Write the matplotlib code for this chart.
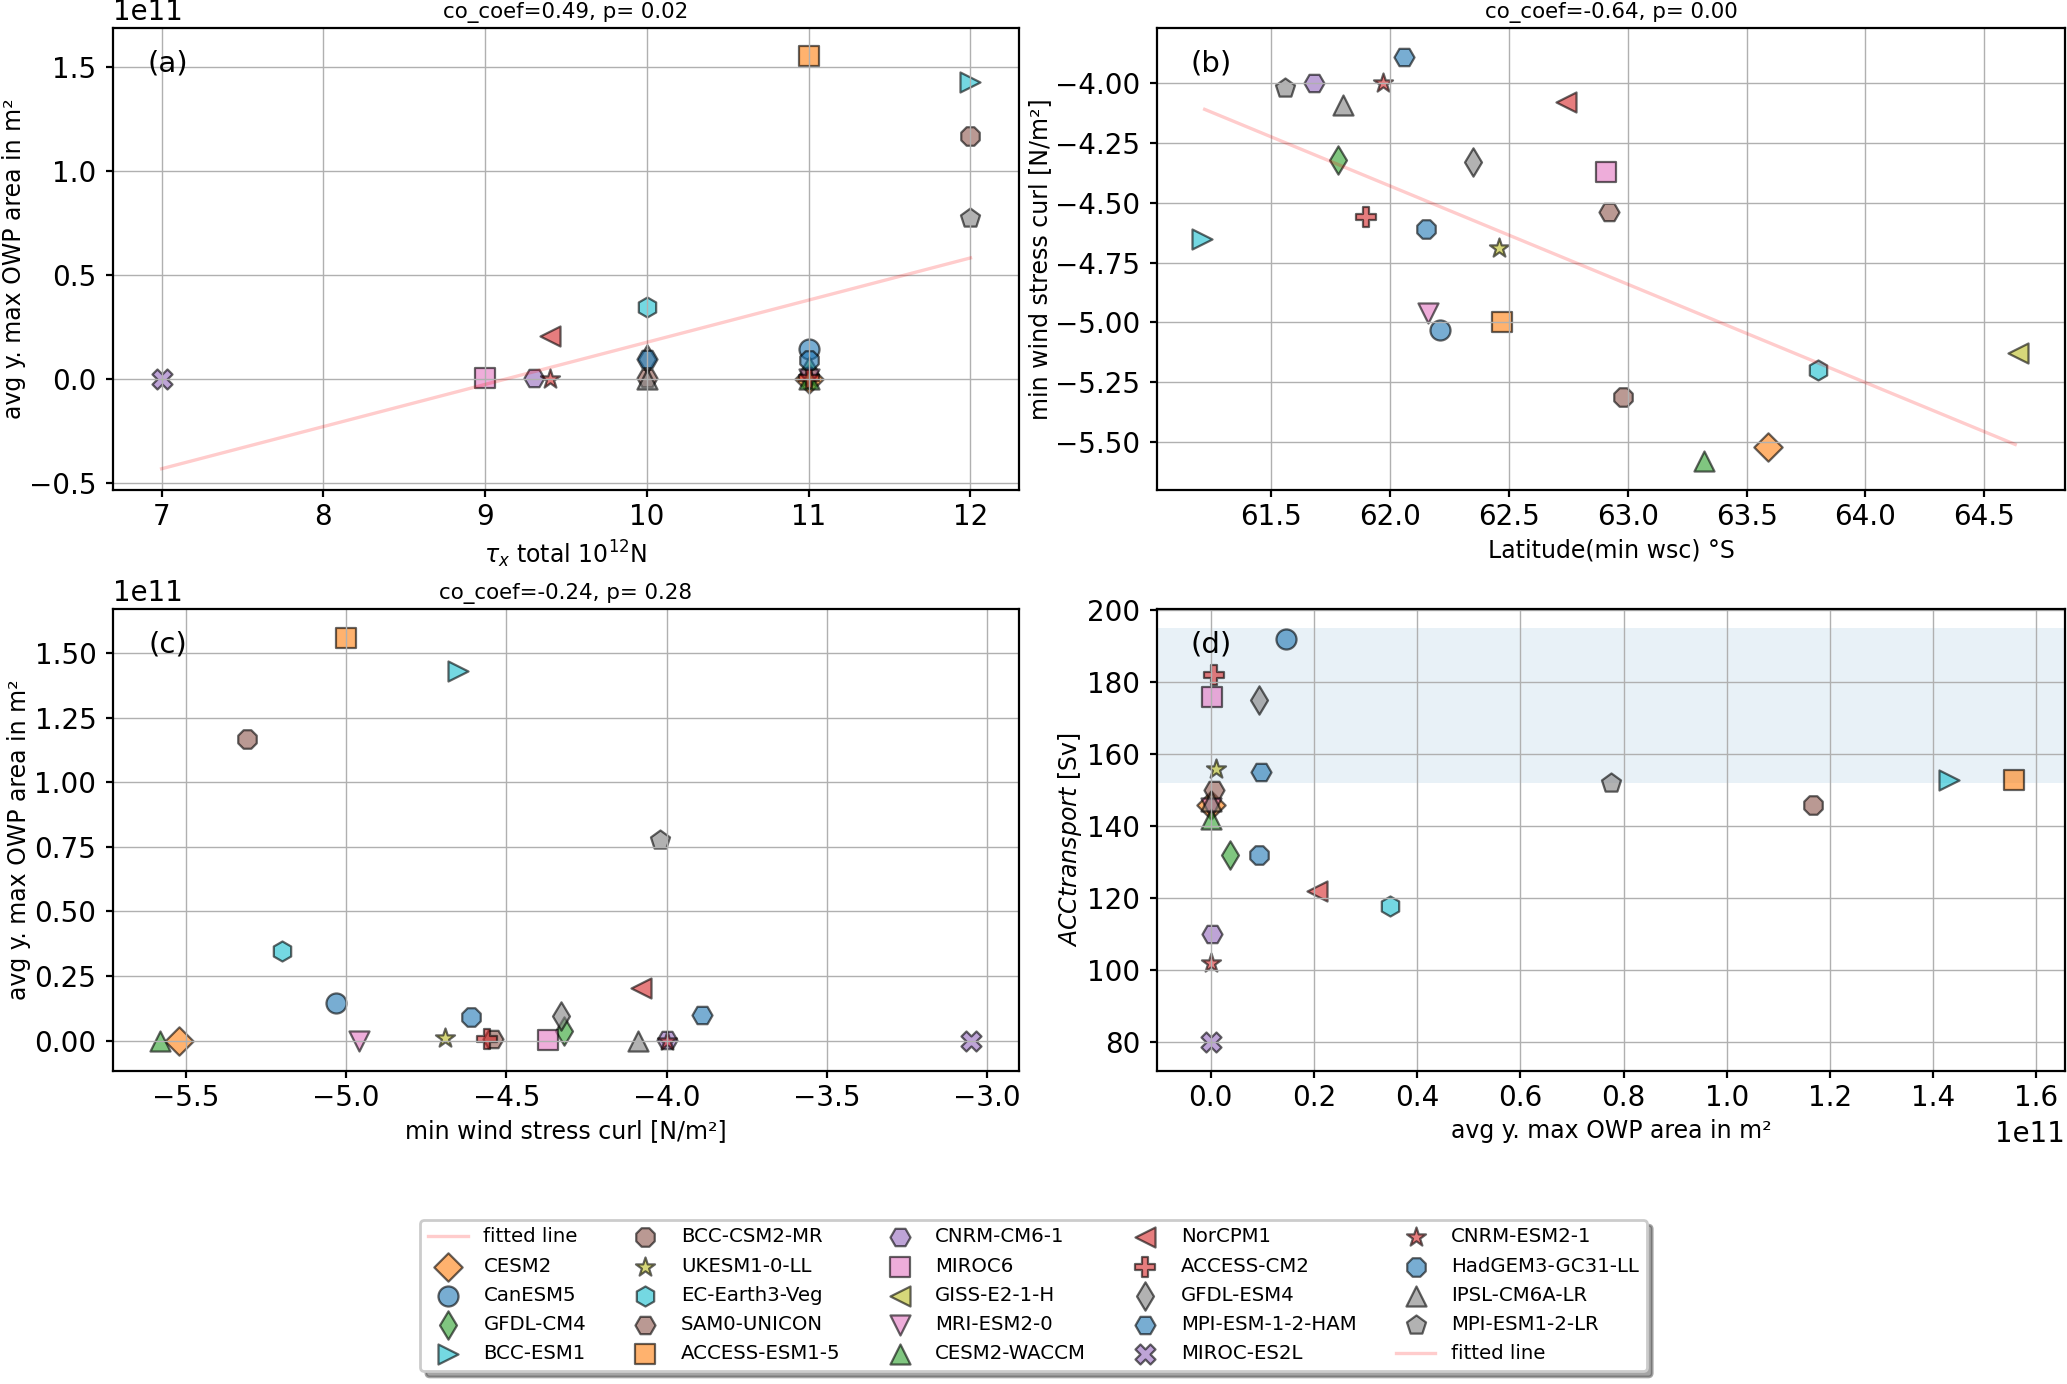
import numpy as np
import matplotlib
matplotlib.use('Agg')
import matplotlib.pyplot as plt

plt.rcParams['font.family'] = ['DejaVu Sans']
plt.rcParams['xtick.labelsize'] = 10
plt.rcParams['ytick.labelsize'] = 10
plt.rcParams['axes.labelsize'] = 8.5
plt.rcParams['axes.titlesize'] = 7.7
plt.rcParams['axes.titlepad'] = 3.5
plt.rcParams['axes.labelpad'] = 1.2
plt.rcParams['xtick.major.size'] = 2.5
plt.rcParams['ytick.major.size'] = 2.5
plt.rcParams['xtick.major.pad'] = 2.2
plt.rcParams['grid.linewidth'] = 0.5

models = ['CESM2', 'CanESM5', 'GFDL-CM4', 'BCC-ESM1', 'BCC-CSM2-MR', 'UKESM1-0-LL',
          'EC-Earth3-Veg', 'SAM0-UNICON', 'ACCESS-ESM1-5', 'CNRM-CM6-1', 'MIROC6',
          'GISS-E2-1-H', 'MRI-ESM2-0', 'CESM2-WACCM', 'NorCPM1', 'ACCESS-CM2',
          'GFDL-ESM4', 'MPI-ESM-1-2-HAM', 'MIROC-ES2L', 'CNRM-ESM2-1',
          'HadGEM3-GC31-LL', 'IPSL-CM6A-LR', 'MPI-ESM1-2-LR']
markers = ['D', 'o', 'd', '>', '8', '*', 'h', 'H', 's', 'H', 's', '<', 'v', '^',
           '<', 'P', 'd', 'H', 'X', '*', '8', '^', 'p']
colors = ['tab:orange', 'tab:blue', 'tab:green', 'tab:cyan', 'tab:brown', 'tab:olive',
          'tab:cyan', 'tab:brown', 'tab:orange', 'tab:purple', 'tab:pink', 'tab:olive',
          'tab:pink', 'tab:green', 'tab:red', 'tab:red', 'tab:gray', 'tab:blue',
          'tab:purple', 'tab:red', 'tab:blue', 'tab:gray', 'tab:gray']

# tau_x total [10^12 N]
tau = [11, 11, 11, 12, 12, 11, 10, 10, 11, 9.3, 9, np.nan, 11, 11, 9.4, 11,
       10, 10, 7, 9.4, 11, 10, 12]
# avg yearly max OWP area [1e11 m^2]
owp = [0.0, 0.145, 0.038, 1.43, 1.168, 0.01, 0.348, 0.006, 1.556, 0.003, 0.003,
       np.nan, 0.0, 0.0, 0.205, 0.007, 0.094, 0.098, 0.0, 0.0, 0.093, 0.0, 0.776]
# latitude of min wind stress curl [deg S]
lat = [63.59, 62.21, 61.78, 61.21, 62.98, 62.46, 63.80, 62.92, 62.47, 61.68, 62.91,
       64.64, 62.16, 63.32, 62.74, 61.90, 62.35, 62.06, np.nan, 61.97, 62.15, 61.80, 61.56]
# min wind stress curl [N/m2]
wsc = [-5.52, -5.03, -4.32, -4.65, -5.31, -4.69, -5.20, -4.54, -5.00, -4.00, -4.37,
       -5.13, -4.96, -5.58, -4.08, -4.56, -4.33, -3.89, -3.05, -4.00, -4.61, -4.09, -4.02]
# ACC transport [Sv]
acc = [146, 192, 132, 153, 146, 156, 118, 150, 153, 110, 176, np.nan, 145, 142,
       122, 182, 175, 155, 80, 102, 132, 147, 152]

fit_a_x = [7, 12]
fit_a_y = [-0.432, 0.583]
fit_b_x = [61.22, 64.63]
fit_b_y = [-4.11, -5.51]

owp = np.array(owp) * 1e11
fit_a_y = np.array(fit_a_y) * 1e11

fig = plt.figure(figsize=(10.335, 6.92), dpi=200)
ax1 = fig.add_axes([0.0547, 0.646, 0.4383, 0.3338])
ax2 = fig.add_axes([0.5598, 0.646, 0.4393, 0.3338])
ax3 = fig.add_axes([0.0547, 0.2262, 0.4383, 0.3338])
ax4 = fig.add_axes([0.5598, 0.2262, 0.4393, 0.3338])


def scat(ax, xs, ys):
    hs = []
    for i in range(len(models)):
        h = ax.scatter(xs[i], ys[i], marker=markers[i], c=colors[i], s=52, alpha=0.6,
                       edgecolors='k', linewidths=0.8, label=models[i])
        hs.append(h)
    return hs


l1, = ax1.plot(fit_a_x, fit_a_y, color='red', alpha=0.2, lw=1.2, label='fitted line')
handles = scat(ax1, tau, owp)
l2, = ax2.plot(fit_b_x, fit_b_y, color='red', alpha=0.2, lw=1.2, label='fitted line')
scat(ax2, lat, wsc)
scat(ax3, wsc, owp)
ax4.axhspan(152, 195, alpha=0.1)
scat(ax4, owp, acc)

ax1.set_xlim(6.7, 12.3)
ax1.set_ylim(-0.534e11, 1.69e11)
ax1.set_xlabel(r'$\tau_x$ total $10^{12}$N', labelpad=2.6)
ax1.set_ylabel('avg y. max OWP area in m²')
ax1.set_title('co_coef=0.49, p= 0.02')

ax2.set_xlim(61.02, 64.84)
ax2.set_ylim(-5.70, -3.77)
ax2.set_xlabel('Latitude(min wsc) °S', labelpad=2.6)
ax2.set_ylabel('min wind stress curl [N/m²]')
ax2.set_title('co_coef=-0.64, p= 0.00')

ax3.set_xlim(-5.727, -2.90)
ax3.set_ylim(-0.117e11, 1.670e11)
ax3.set_xlabel('min wind stress curl [N/m²]', labelpad=2.6)
ax3.set_ylabel('avg y. max OWP area in m²')
ax3.set_title('co_coef=-0.24, p= 0.28')

ax4.set_xlim(-0.104e11, 1.656e11)
ax4.set_ylim(72.1, 200.4)
ax4.set_xlabel('avg y. max OWP area in m²', labelpad=2.6)
ax4.set_ylabel(r'$ACCtransport$ [Sv]')

for ax, lab in zip([ax1, ax2, ax3, ax4], ['(a)', '(b)', '(c)', '(d)']):
    ax.grid(True)
    ax.text(0.06, 0.922, lab, transform=ax.transAxes, ha='center', va='center', fontsize=10.5)

fig.legend([l1] + handles + [l2], ['fitted line'] + models + ['fitted line'],
           loc='lower center', bbox_to_anchor=(0.5, 0.002), ncol=5, fontsize=7.1,
           labelspacing=0.52, shadow=True, fancybox=True)

plt.savefig('out.png', dpi=200)
